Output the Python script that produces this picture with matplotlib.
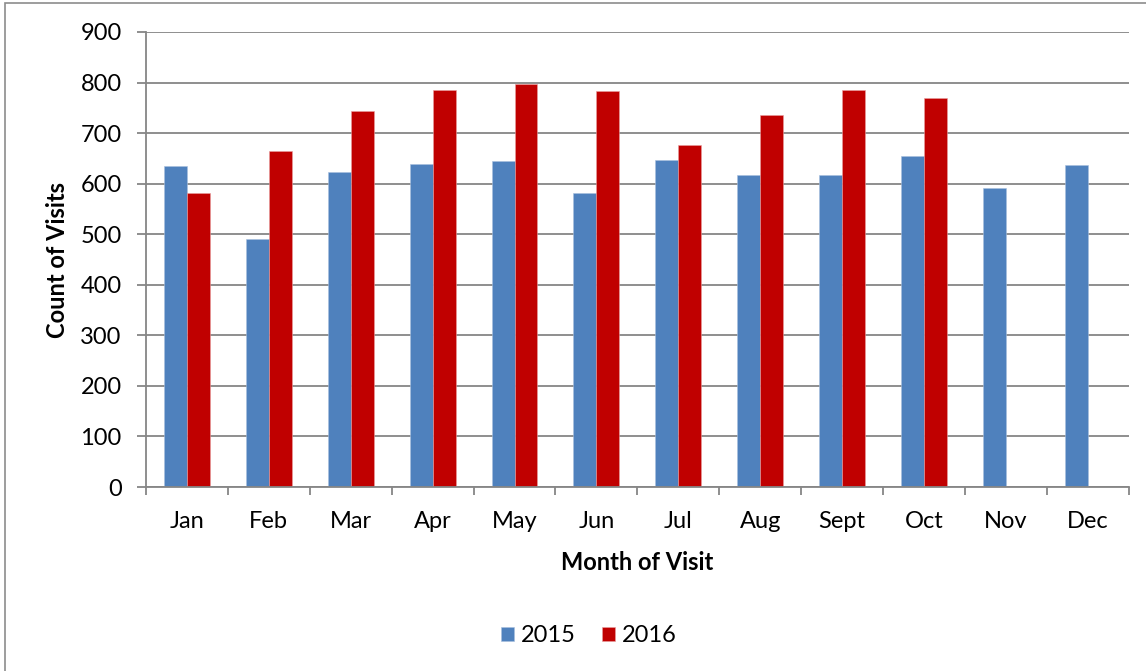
import matplotlib.pyplot as plt
import matplotlib.patches as patches
import numpy as np

months = ['Jan', 'Feb', 'Mar', 'Apr', 'May', 'Jun', 'Jul', 'Aug', 'Sept', 'Oct', 'Nov', 'Dec']
visits_2015 = [634, 490, 623, 639, 645, 582, 647, 617, 618, 654, 591, 636]
visits_2016 = [582, 665, 743, 785, 798, 784, 676, 735, 785, 770, np.nan, np.nan]
series_labels = ['2015', '2016']
y_ticks = [0, 100, 200, 300, 400, 500, 600, 700, 800, 900]

BLUE = '#4F81BD'
RED = '#C00000'
GRID = '#868686'

plt.rcParams['font.family'] = ['Lato', 'DejaVu Sans']
FS = 17

W, H = 1146, 671
fig = plt.figure(figsize=(W / 100, H / 100), dpi=100)
ax = fig.add_axes([146 / W, 1 - 487 / H, (1128.7 - 146) / W, (487 - 32) / H])

# outer chart border (only left and top visible in the reference)
fig.patches.append(patches.Rectangle((5 / W, -0.05), 1.2, 1.05 - 2.5 / H,
                                     transform=fig.transFigure, fill=False,
                                     edgecolor='#8c8c8c', linewidth=1.2))

x = np.arange(len(months))
bw = 0.28
ax.bar(x - bw / 2, visits_2015, bw, color=BLUE, label=series_labels[0], zorder=3,
       edgecolor='#a9c0de', linewidth=0.4)
ax.bar(x + bw / 2, visits_2016, bw, color=RED, label=series_labels[1], zorder=3,
       edgecolor='#e8a0a0', linewidth=0.4)

ax.set_xlim(-0.5, len(months) - 0.5)
ax.set_ylim(0, 900)
ax.set_yticks(y_ticks)
ax.yaxis.grid(True, color=GRID, linewidth=1.3, zorder=0)
ax.set_axisbelow(True)

for s in ['top', 'right']:
    ax.spines[s].set_visible(False)
for s in ['left', 'bottom']:
    ax.spines[s].set_color(GRID)
    ax.spines[s].set_linewidth(1.3)
    ax.spines[s].set_zorder(4)

ax.set_xticks(x)
ax.set_xticklabels(months, fontsize=FS)
ax.set_xticks(np.arange(-0.5, len(months)), minor=True)
ax.tick_params(axis='x', which='major', length=0, pad=17.5)
ax.tick_params(axis='x', which='minor', length=6, width=1.3, color=GRID, direction='out')
ax.tick_params(axis='y', length=6.5, width=1.3, color=GRID, pad=11, labelsize=FS)

ax.set_ylabel('Count of Visits', fontsize=FS, fontweight='bold', va='center')
ax.yaxis.set_label_coords(-0.0896, 0.5)
ax.set_xlabel('Month of Visit', fontsize=FS, fontweight='bold', va='center')
ax.xaxis.set_label_coords(0.5, -0.165)

fig.legend(loc='center', bbox_to_anchor=(589 / W, 1 - 636 / H), ncol=2, frameon=False,
           fontsize=FS, handlelength=0.55, handleheight=0.55, handletextpad=0.3,
           columnspacing=1.1)

fig.savefig('out.png', dpi=100)
